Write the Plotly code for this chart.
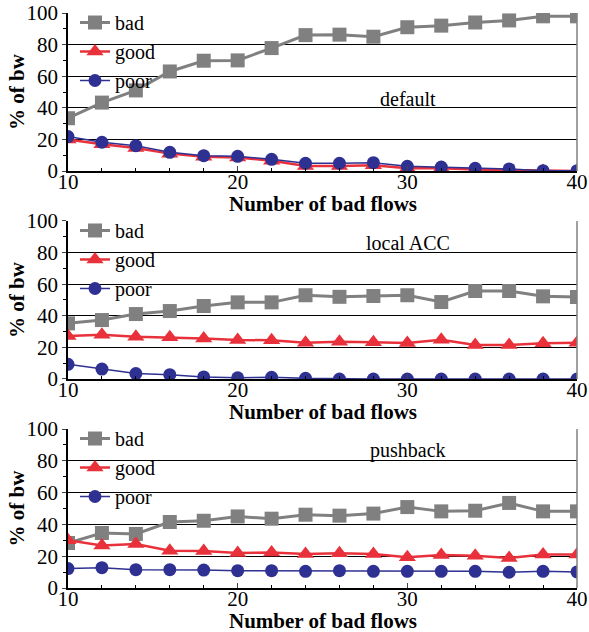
import plotly.graph_objects as go
from plotly.subplots import make_subplots

flows = [10, 12, 14, 16, 18, 20, 22, 24, 26, 28, 30, 32, 34, 36, 38, 40]

default_bad = [33.4, 43.3, 51, 63, 69.8, 70, 77.8, 86, 86.3, 85, 91, 92, 94, 95.3, 97.9, 97.9]
default_good = [20, 17, 14.5, 11, 9, 8.5, 6.5, 3.2, 3.2, 3.6, 1.8, 1.8, 0.9, 0.5, 0, 0]
default_poor = [21.8, 18.2, 16, 11.8, 9.7, 9.3, 7.4, 4.9, 4.9, 5.3, 3, 2.5, 1.7, 1.3, 0.2, 0.2]

acc_bad = [35.2, 37.3, 41.1, 43, 46.2, 48.5, 48.5, 53, 52, 52.5, 53, 48.7, 55.7, 55.7, 52.3, 51.9]
acc_good = [27.2, 28, 26.8, 26.4, 25.7, 24.7, 24.5, 23, 23.6, 23.2, 22.8, 24.9, 21.5, 21.5, 22.6, 23]
acc_poor = [9.3, 6.3, 3.4, 2.7, 1.3, 0.8, 1.1, 0.4, 0, 0, 0, 0, 0, 0, 0, 0]

push_bad = [28.3, 34.6, 34, 41.5, 42.3, 45, 43.6, 46.1, 45.5, 46.8, 50.9, 48.2, 48.6, 53.5, 48.2, 48.2]
push_good = [30, 26.8, 27.7, 23.5, 23.3, 22, 22.4, 21.4, 21.8, 21.4, 19.3, 20.8, 20.3, 18.9, 21, 21]
push_poor = [12.2, 12.8, 11.5, 11.5, 11.3, 10.9, 10.9, 10.5, 10.9, 10.5, 10.5, 10.5, 10.5, 9.9, 10.5, 10.1]

panel_titles = ["default", "local ACC", "pushback"]
series_names = ["bad", "good", "poor"]
x_title = "Number of bad flows"
y_title = "% of bw"
x_ticks = [10, 20, 30, 40]
y_ticks = [0, 20, 40, 60, 80, 100]

panels = [
    (default_bad, default_good, default_poor),
    (acc_bad, acc_good, acc_poor),
    (push_bad, push_good, push_poor),
]

FONT = "Liberation Serif"
colors = {"bad": "#808080", "good": "#e8313a", "poor": "#2e3192"}
symbols = {"bad": "square", "good": "triangle-up", "poor": "circle"}
msize = {"bad": 14, "good": 15, "poor": 13}
lwidth = {"bad": 3, "good": 2.5, "poor": 1.5}

fig = make_subplots(rows=3, cols=1)

legend_ids = ["legend", "legend2", "legend3"]
for i, vals in enumerate(panels):
    for name, v in zip(series_names, vals):
        fig.add_trace(
            go.Scatter(
                x=flows, y=v, name=name, mode="lines+markers",
                line=dict(color=colors[name], width=lwidth[name]),
                marker=dict(symbol=symbols[name], size=msize[name], color=colors[name]),
                legend=legend_ids[i],
            ),
            row=i + 1, col=1,
        )

W, H = 589, 632
M = dict(l=68, r=12, t=13, b=44)
plot_h = H - M["t"] - M["b"]
plot_w = W - M["l"] - M["r"]
domains = [[0.7252, 1.0], [0.3635, 0.6383], [0.0, 0.2765]]
ann_pos = [(0.668, 0.456), (0.668, 0.861), (0.668, 0.862)]
legend_up = 10 / plot_h
legend_right = 7 / plot_w

fig.update_layout(
    width=W, height=H,
    margin=dict(**M, autoexpand=False),
    plot_bgcolor="white", paper_bgcolor="white",
    font=dict(family=FONT, size=21, color="black"),
    showlegend=True,
)

for i in range(3):
    xa = "xaxis" if i == 0 else f"xaxis{i+1}"
    ya = "yaxis" if i == 0 else f"yaxis{i+1}"
    yref = "y" if i == 0 else f"y{i+1}"
    xref = "x" if i == 0 else f"x{i+1}"
    fig.layout[xa].update(
        range=[10, 40], tickvals=x_ticks, ticks="inside", ticklen=5,
        showline=True, linecolor="black", linewidth=1.5, showgrid=False, zeroline=False,
        minor=dict(dtick=2, ticks="inside", ticklen=3, tickcolor="black"),
        tickfont=dict(size=21, family=FONT, color="black"), automargin=False,
        ticklabelstandoff=-9,
    )
    fig.layout[ya].update(
        domain=domains[i], range=[0, 100], tickvals=y_ticks, ticks="outside", ticklen=4,
        showline=True, linecolor="black", linewidth=1.5,
        showgrid=True, gridcolor="black", gridwidth=1, zeroline=False,
        minor=dict(dtick=10, ticks="outside", ticklen=3, tickcolor="black"),
        tickfont=dict(size=21, family=FONT, color="black"), automargin=False,
    )
    # gray right border
    fig.add_shape(type="line", xref=f"{xref} domain", yref=f"{yref} domain",
                  x0=1, x1=1, y0=0, y1=1, line=dict(color="#808080", width=1.5))
    fig.add_annotation(text=panel_titles[i], xref=f"{xref} domain", yref=f"{yref} domain",
                       x=ann_pos[i][0], y=ann_pos[i][1], xanchor="center", yanchor="middle",
                       showarrow=False, font=dict(size=20, family=FONT))
    fig.add_annotation(text=f"<b>{x_title}</b>", xref=f"{xref} domain", yref=f"{yref} domain",
                       x=0.5, y=0, xanchor="center", yanchor="middle", yshift=-33,
                       showarrow=False, font=dict(size=21, family=FONT))
    fig.add_annotation(text=f"<b>{y_title}</b>", xref=f"{xref} domain", yref=f"{yref} domain",
                       x=0, y=0.5, xanchor="center", yanchor="middle", xshift=-51,
                       textangle=-90, showarrow=False, font=dict(size=21, family=FONT))
    fig.layout[legend_ids[i]] = dict(
        x=legend_right, y=domains[i][1] + legend_up, xref="paper", yref="paper",
        xanchor="left", yanchor="top", bgcolor="rgba(0,0,0,0)",
        font=dict(size=20, family=FONT, color="black"), tracegroupgap=0, itemwidth=30,
    )

fig.write_html("out.html", config={"displayModeBar": False},
               post_script="document.body.style.margin='0px';window.dispatchEvent(new Event('resize'));")
